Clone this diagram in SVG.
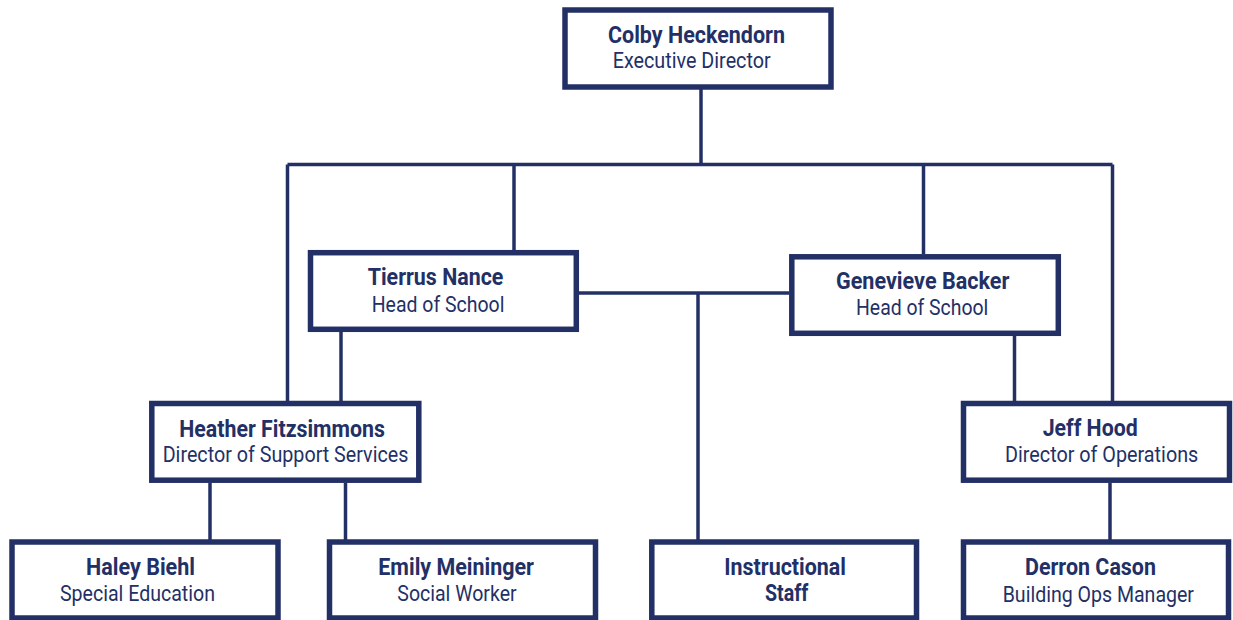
<svg xmlns="http://www.w3.org/2000/svg" width="1233" height="620" viewBox="0 0 1233 620">
<style>
.box{fill:#fff;stroke:#233066;stroke-width:5.5}
.ln{fill:none;stroke:#233066;stroke-width:3.5}
.nm{font-family:Roboto,"Liberation Sans",sans-serif;font-weight:bold;font-size:23.5px;fill:#233066}
.tt{font-family:Roboto,"Liberation Sans",sans-serif;font-size:22.5px;fill:#233066}
</style>
<rect width="1233" height="620" fill="#fff"/>
<g id="connectors" class="ln">
<path d="M701 89V164.5"/>
<path d="M287.5 164.5H1112.5"/>
<path d="M287.5 164.5V401"/>
<path d="M514 164.5V250"/>
<path d="M923.5 164.5V254"/>
<path d="M1112.5 164.5V401"/>
<path d="M579 293H789"/>
<path d="M698 293V540"/>
<path d="M341 332V401"/>
<path d="M1014.5 336V401"/>
<path d="M210 483V540"/>
<path d="M345.5 483V540"/>
<path d="M1110 483V540"/>
</g>
<g id="colby">
<rect class="box" x="565" y="10" width="266" height="77"/>
<text class="nm" x="608" y="43" font-size="24" textLength="177" lengthAdjust="spacingAndGlyphs">Colby Heckendorn</text>
<text class="tt" x="612.7" y="68.3" textLength="158" lengthAdjust="spacingAndGlyphs">Executive Director</text>
</g>
<g id="tierrus">
<rect class="box" x="310.5" y="252.7" width="265.8" height="76.6"/>
<text class="nm" x="367.7" y="285" textLength="135.7" lengthAdjust="spacingAndGlyphs">Tierrus Nance</text>
<text class="tt" x="371.7" y="311.7" textLength="132.7" lengthAdjust="spacingAndGlyphs">Head of School</text>
</g>
<g id="genevieve">
<rect class="box" x="791.8" y="256.8" width="266.5" height="76.5"/>
<text class="nm" x="836" y="289.3" textLength="173.3" lengthAdjust="spacingAndGlyphs">Genevieve Backer</text>
<text class="tt" x="856" y="315" textLength="132.3" lengthAdjust="spacingAndGlyphs">Head of School</text>
</g>
<g id="heather">
<rect class="box" x="151.8" y="403.5" width="267" height="76.7"/>
<text class="nm" x="179.3" y="436.7" textLength="205.7" lengthAdjust="spacingAndGlyphs">Heather Fitzsimmons</text>
<text class="tt" x="162.7" y="462.3" textLength="245.7" lengthAdjust="spacingAndGlyphs">Director of Support Services</text>
</g>
<g id="jeff">
<rect class="box" x="963.5" y="403.5" width="266" height="76.7"/>
<text class="nm" x="1042.7" y="436" textLength="95" lengthAdjust="spacingAndGlyphs">Jeff Hood</text>
<text class="tt" x="1005" y="462.3" textLength="193.3" lengthAdjust="spacingAndGlyphs">Director of Operations</text>
</g>
<g id="haley">
<rect class="box" x="12" y="542" width="266" height="76"/>
<text class="nm" x="86" y="575" textLength="109" lengthAdjust="spacingAndGlyphs">Haley Biehl</text>
<text class="tt" x="60" y="601" textLength="155" lengthAdjust="spacingAndGlyphs">Special Education</text>
</g>
<g id="emily">
<rect class="box" x="329.5" y="542" width="266" height="76"/>
<text class="nm" x="378.3" y="575" textLength="155.7" lengthAdjust="spacingAndGlyphs">Emily Meininger</text>
<text class="tt" x="397.3" y="601" textLength="119.3" lengthAdjust="spacingAndGlyphs">Social Worker</text>
</g>
<g id="instructional">
<rect class="box" x="651.8" y="542" width="264.7" height="76"/>
<text class="nm" x="724.3" y="575" textLength="121.7" lengthAdjust="spacingAndGlyphs">Instructional</text>
<text class="nm" x="765" y="601" textLength="43.3" lengthAdjust="spacingAndGlyphs">Staff</text>
</g>
<g id="derron">
<rect class="box" x="963.5" y="542" width="265" height="76"/>
<text class="nm" x="1025" y="575" textLength="131" lengthAdjust="spacingAndGlyphs">Derron Cason</text>
<text class="tt" x="1002.7" y="601.5" textLength="191.3" lengthAdjust="spacingAndGlyphs">Building Ops Manager</text>
</g>
</svg>
